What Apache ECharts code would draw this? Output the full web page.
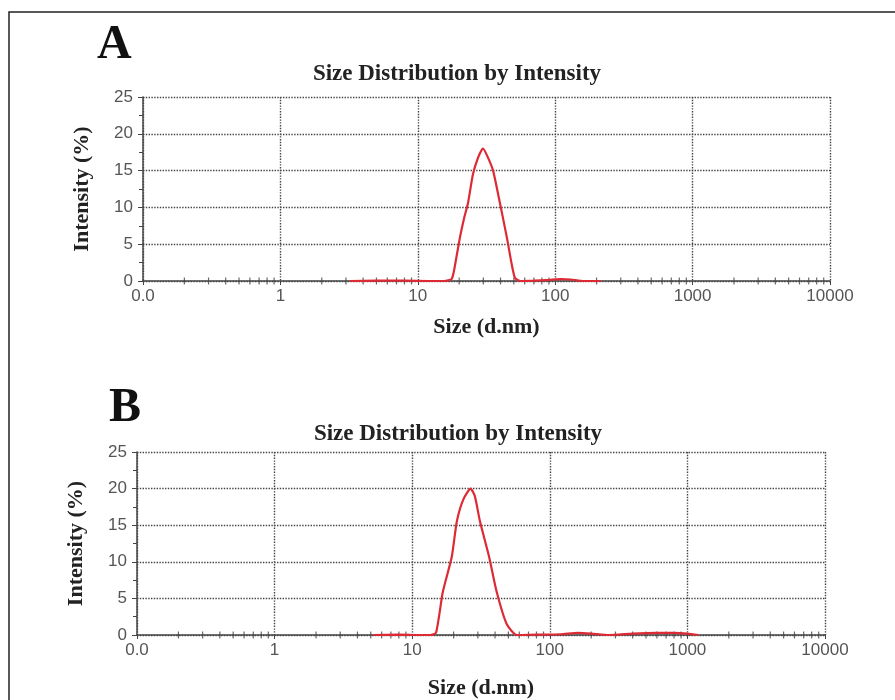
<!DOCTYPE html>
<html>
<head>
<meta charset="utf-8">
<script src="https://cdn.jsdelivr.net/npm/echarts@6/dist/echarts.min.js"></script>
<style>
  html, body { margin: 0; padding: 0; background: #fff; }
  #chart { width: 895px; height: 700px; }
</style>
</head>
<body>
<div id="chart"></div>
<script>
// panel A (size in d.nm, intensity in %)
var sizesA = [3.2, 5, 8, 12, 15.5, 17.7, 19, 20.3, 21.7, 23.2, 25.2, 27.5, 29.8, 32, 35.3, 39.6, 44.6, 48, 51, 56, 70, 90, 110, 130, 160, 215]
var intensityA = [0, 0.05, 0.05, 0, 0, 0.3, 3, 6, 8.5, 10.6, 14.5, 16.8, 18, 17, 15, 10.6, 5.8, 2.5, 0.4, 0, 0.05, 0.15, 0.25, 0.2, 0, 0]

// panel B
var sizesB = [5.2, 8, 11, 13.5, 14.9, 16.7, 19.4, 21.1, 23.5, 26.6, 28.5, 31.1, 36.2, 41.1, 48.6, 57.4, 80, 120, 160, 200, 270, 400, 600, 800, 1000, 1200]
var intensityB = [0, 0.05, 0, 0, 0.3, 5.9, 10.7, 15.5, 18.5, 20, 19, 15.5, 10.7, 5.9, 1.5, 0, 0.05, 0.1, 0.3, 0.2, 0, 0.2, 0.3, 0.3, 0.2, 0]

var xDecades = [0.1, 1, 10, 100, 1000, 10000]

// minor ticks on the log axis (2..9 in every decade)
var minorX = []
for (var d = 0; d < xDecades.length - 1; d++) {
  for (var m = 2; m < 10; m++) {
    minorX.push([+(xDecades[d] * m).toPrecision(3), 0])
  }
}

function pairs (xs, ys) {
  var out = []
  for (var i = 0; i < xs.length; i++) out.push([xs[i], ys[i]])
  return out
}

var serif = 'Liberation Serif'
var sans = 'Liberation Sans'

function xAxisFor (gi, gap) {
  return {
    type: 'log', logBase: 10, gridIndex: gi,
    min: xDecades[0], max: xDecades[xDecades.length - 1],
    name: 'Size (d.nm)', nameLocation: 'middle', nameGap: gap,
    nameTextStyle: { fontFamily: serif, fontWeight: 'bold', fontSize: 22, color: '#222' },
    axisLine: { lineStyle: { color: '#444', width: 1.5 } },
    axisTick: { show: true, length: 4, lineStyle: { color: '#444' } },
    axisLabel: {
      fontFamily: sans, fontSize: 17, color: '#555', margin: 7,
      formatter: function (v) { return v < 1 ? '0.0' : String(v) }
    },
    splitLine: { show: true, lineStyle: { type: 'dotted', color: '#444', width: 1.4 } }
  }
}

function yAxisFor (gi) {
  return {
    type: 'value', gridIndex: gi, min: 0, max: 25, interval: 5,
    name: 'Intensity (%)', nameLocation: 'middle', nameGap: 50, nameRotate: 90,
    nameTextStyle: { fontFamily: serif, fontWeight: 'bold', fontSize: 22, color: '#222' },
    axisLine: { show: true, lineStyle: { color: '#444', width: 1.5 } },
    axisTick: { show: true, length: 5, lineStyle: { color: '#444' } },
    minorTick: { show: true, splitNumber: 2, length: 4, lineStyle: { color: '#444' } },
    axisLabel: { fontFamily: sans, fontSize: 17, color: '#555', margin: 10 },
    splitLine: { show: true, lineStyle: { type: 'dotted', color: '#444', width: 1.4 } }
  }
}

function curve (xi, data) {
  return {
    type: 'line', xAxisIndex: xi, yAxisIndex: xi, data: data,
    showSymbol: false, smooth: 0.2, z: 5,
    lineStyle: { color: '#dd2a35', width: 2.2 }
  }
}

function minors (xi) {
  return {
    type: 'scatter', xAxisIndex: xi, yAxisIndex: xi, data: minorX,
    symbol: 'rect', symbolSize: [1.2, 7], silent: true, z: 4,
    itemStyle: { color: '#444' }
  }
}

var titleStyle = { fontFamily: serif, fontWeight: 'bold', fontSize: 23, color: '#222' }
var letterStyle = { fontFamily: serif, fontWeight: 'bold', fontSize: 48, color: '#111' }

var chart = echarts.init(document.getElementById('chart'))
chart.setOption({
  animation: false,
  backgroundColor: '#fff',
  graphic: [{
    type: 'rect', shape: { x: 9, y: 12, width: 900, height: 700 },
    style: { fill: 'none', stroke: '#222', lineWidth: 1.5 }
  }],
  title: [
    { text: 'A', left: 92, top: 17, textStyle: letterStyle },
    { text: 'Size Distribution by Intensity', left: 452, top: 58, textAlign: 'center', textStyle: titleStyle },
    { text: 'B', left: 104, top: 380, textStyle: letterStyle },
    { text: 'Size Distribution by Intensity', left: 453, top: 418, textAlign: 'center', textStyle: titleStyle }
  ],
  grid: [
    { left: 143, right: 65, top: 97, height: 184 },
    { left: 137, right: 70, top: 452, height: 183 }
  ],
  xAxis: [xAxisFor(0, 35), xAxisFor(1, 42)],
  yAxis: [yAxisFor(0), yAxisFor(1)],
  series: [
    curve(0, pairs(sizesA, intensityA)),
    curve(1, pairs(sizesB, intensityB)),
    minors(0),
    minors(1)
  ]
})
</script>
</body>
</html>
